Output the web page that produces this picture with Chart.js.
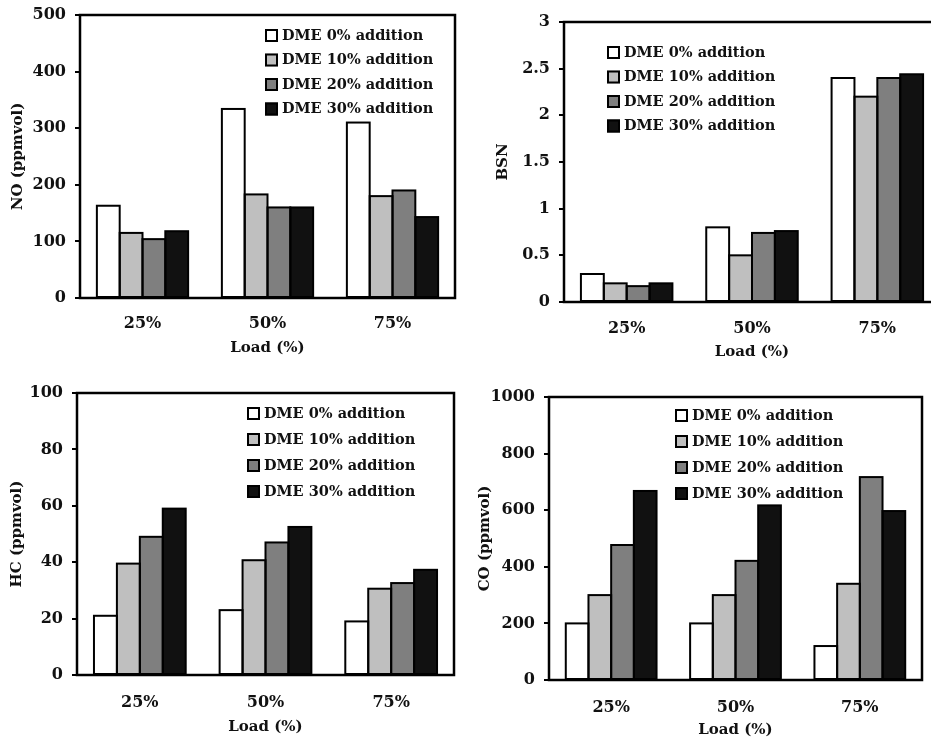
<!DOCTYPE html>
<html>
<head>
<meta charset="utf-8">
<script src="https://cdn.jsdelivr.net/npm/chart.js@4.4.1/dist/chart.umd.min.js"></script>
<style>
  body { margin: 0; background: #fff; overflow: hidden; }
  canvas { position: absolute; }
</style>
</head>
<body>
<canvas id="noChart" width="470" height="380" style="left:0;top:-5px"></canvas>
<canvas id="bsnChart" width="470" height="373" style="left:470px;top:2px"></canvas>
<canvas id="hcChart" width="470" height="367" style="left:0;top:373px"></canvas>
<canvas id="coChart" width="461" height="363" style="left:470px;top:377px"></canvas>
<script>
// Categorias e séries
const loads = ['25%', '50%', '75%'];
const seriesLabels = ['DME 0% addition', 'DME 10% addition', 'DME 20% addition', 'DME 30% addition'];
const seriesColors = ['#ffffff', '#bfbfbf', '#7f7f7f', '#111111'];

// NO (ppmvol)
const no0 = [163, 334, 310];
const no10 = [115, 183, 180];
const no20 = [104, 160, 190];
const no30 = [118, 160, 143];

// BSN
const bsn0 = [0.3, 0.8, 2.4];
const bsn10 = [0.2, 0.5, 2.2];
const bsn20 = [0.17, 0.74, 2.4];
const bsn30 = [0.2, 0.76, 2.44];

// HC (ppmvol)
const hc0 = [21, 23, 19];
const hc10 = [39.5, 40.7, 30.6];
const hc20 = [49, 47, 32.6];
const hc30 = [59, 52.5, 37.3];

// CO (ppmvol)
const co0 = [200, 200, 120];
const co10 = [300, 300, 340];
const co20 = [477, 421, 717];
const co30 = [668, 617, 597];

const FONT = "'DejaVu Serif', serif";
Chart.defaults.font.family = FONT;
Chart.defaults.font.weight = 'bold';
Chart.defaults.color = '#111';

// Contorno das barras (traço único entre barras vizinhas) e moldura da área
const framePlugin = {
    id: 'frame',
    afterDatasetsDraw(chart) {
        const a = chart.chartArea;
        const ctx = chart.ctx;
        ctx.save();
        ctx.lineWidth = 2;
        ctx.strokeStyle = '#000';
        chart.data.datasets.forEach((ds, i) => {
            chart.getDatasetMeta(i).data.forEach(bar => {
                const p = bar.getProps(['x', 'y', 'base', 'width'], true);
                ctx.strokeRect(p.x - p.width / 2, p.y, p.width, p.base - p.y);
            });
        });
        ctx.lineWidth = 2.5;
        ctx.strokeRect(a.left, a.top, a.right - a.left, a.bottom - a.top);
        ctx.restore();
    }
};

// Legenda desenhada dentro da área do gráfico
const insideLegend = {
    id: 'insideLegend',
    afterDraw(chart, args, opts) {
        const a = chart.chartArea;
        const ctx = chart.ctx;
        ctx.save();
        ctx.font = 'bold 14.5px ' + FONT;
        ctx.textBaseline = 'middle';
        chart.data.datasets.forEach((ds, i) => {
            const x = a.left + opts.x;
            const y = a.top + opts.y + i * opts.gap;
            ctx.fillStyle = ds.backgroundColor;
            ctx.fillRect(x, y - 6, 13, 13);
            ctx.lineWidth = 2;
            ctx.strokeStyle = '#000';
            ctx.strokeRect(x + 1, y - 5, 11, 11);
            ctx.fillStyle = '#111';
            ctx.fillText(ds.label, x + 17, y + 1);
        });
        ctx.restore();
    }
};

function criarGrafico(id, series, yTitle, yMax, yStep, geo) {
    return new Chart(document.getElementById(id), {
        type: 'bar',
        data: {
            labels: loads,
            datasets: series.map((values, i) => ({
                label: seriesLabels[i],
                data: values,
                backgroundColor: seriesColors[i],
                borderWidth: 0,
                inflateAmount: 0,
                barPercentage: 1.0,
                categoryPercentage: 0.73
            }))
        },
        options: {
            responsive: false,
            animation: false,
            layout: { padding: { top: 20, right: geo.padRight, left: 0, bottom: 0 } },
            scales: {
                x: {
                    grid: { display: false },
                    border: { display: false },
                    ticks: { font: { size: 16 }, padding: geo.xTickPad },
                    title: { display: true, text: 'Load (%)', font: { size: 15 }, padding: { top: 0, bottom: geo.xTitlePad } },
                    afterFit: s => { s.height = geo.xHeight; }
                },
                y: {
                    min: 0,
                    max: yMax,
                    ticks: { stepSize: yStep, font: { size: 16 }, padding: 9, callback: v => String(v) },
                    grid: { drawOnChartArea: false, tickLength: 5, color: '#000', lineWidth: 2 },
                    border: { display: false },
                    title: { display: true, text: yTitle, font: { size: 15 }, padding: { top: geo.yTitlePad, bottom: 0 } },
                    afterFit: s => { s.width = geo.yWidth; }
                }
            },
            plugins: {
                legend: { display: false },
                tooltip: { enabled: false },
                insideLegend: { x: geo.legX, y: geo.legY, gap: geo.legGap }
            }
        },
        plugins: [framePlugin, insideLegend]
    });
}

criarGrafico('noChart', [no0, no10, no20, no30], 'NO (ppmvol)', 500, 100,
    { padRight: 15, yWidth: 80, xHeight: 77, xTickPad: 8, xTitlePad: 18, yTitlePad: 9, legX: 185, legY: 20, legGap: 24.5 });
criarGrafico('bsnChart', [bsn0, bsn10, bsn20, bsn30], 'BSN', 3, 0.5,
    { padRight: -6, yWidth: 94, xHeight: 73, xTickPad: 9, xTitlePad: 14, yTitlePad: 24, legX: 43, legY: 30, legGap: 24.5 });
criarGrafico('hcChart', [hc0, hc10, hc20, hc30], 'HC (ppmvol)', 100, 20,
    { padRight: 16, yWidth: 77, xHeight: 65, xTickPad: 10, xTitlePad: 4, yTitlePad: 8, legX: 170, legY: 20, legGap: 26 });
criarGrafico('coChart', [co0, co10, co20, co30], 'CO (ppmvol)', 1000, 200,
    { padRight: 9, yWidth: 79, xHeight: 60, xTickPad: 10, xTitlePad: 1, yTitlePad: 6, legX: 126, legY: 18, legGap: 26 });
</script>
</body>
</html>
